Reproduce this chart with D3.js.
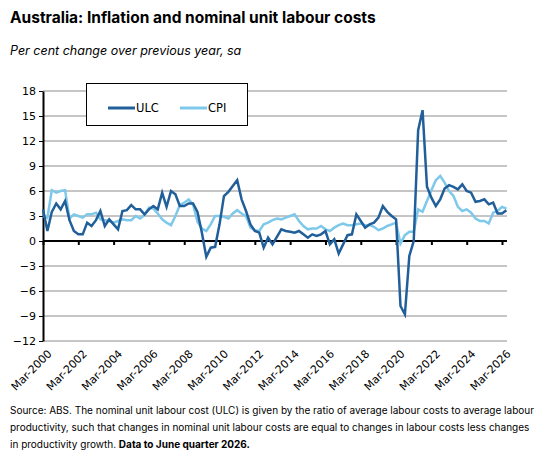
<!DOCTYPE html>
<html><head><meta charset="utf-8">
<script src="https://cdn.jsdelivr.net/npm/d3@7"></script>
<style>
body { margin: 0; background: #fff; }
.axis text { font-family: "DejaVu Sans", Verdana, sans-serif; font-size: 11px; fill: #000; }
</style></head>
<body><div id="chart"></div>
<script>
// Quarterly, Mar-2000 .. Jun-2026
var ulc = [3.8,1.2,3.5,4.5,3.8,4.8,2.5,1.2,0.8,0.8,2.2,1.8,2.5,3.6,1.8,2.6,2.0,1.4,3.6,3.7,
  4.3,3.8,3.8,3.2,3.8,4.2,3.8,5.8,4.1,6.0,5.6,4.2,4.2,4.5,4.5,3.5,1.0,-1.9,-0.8,-0.7,
  2.0,5.4,5.9,6.6,7.3,5.0,3.6,2.0,1.2,1.0,-0.8,0.4,-0.4,0.5,1.4,1.2,1.1,1.0,1.2,0.8,
  0.4,0.8,0.6,0.8,1.2,-0.4,0.2,-1.5,-0.4,0.7,0.8,3.2,2.4,1.6,2.0,2.2,2.8,4.2,3.5,3.0,
  2.6,-7.8,-8.8,-1.8,0,13.3,15.7,6.5,5.2,4.2,5.0,6.3,6.7,6.5,6.2,6.8,6.0,5.8,4.7,4.8,
  5.0,4.4,4.6,3.3,3.3,3.7];
var cpi = [3.0,2.8,6.1,5.8,6.0,6.1,2.7,3.2,3.0,2.8,3.2,3.2,3.4,2.6,2.5,2.4,2.2,2.4,2.6,2.5,
  2.5,3.0,2.7,3.1,4.0,3.9,3.3,2.6,2.2,1.9,3.0,4.3,4.6,5.0,4.4,2.3,1.5,1.2,2.0,3.0,
  3.0,2.9,2.7,3.3,3.7,3.3,3.0,1.6,1.3,1.2,2.0,2.2,2.5,2.7,2.6,2.8,3.0,3.2,2.4,1.8,
  1.4,1.5,1.5,1.8,1.4,1.2,1.6,1.9,2.1,1.9,1.9,2.0,2.1,1.9,1.9,1.7,1.3,1.5,1.8,2.0,
  2.2,-0.3,0.7,1.1,1.1,3.8,3.5,4.8,6.1,7.3,7.8,7.0,6.0,5.4,4.1,3.6,3.8,3.4,2.7,2.4,
  2.4,2.1,3.4,3.6,4.1,3.9];
var yTicks = [-12,-9,-6,-3,0,3,6,9,12,15,18];
var months = ['Mar','Jun','Sep','Dec'];
var quarters = ulc.map(function (d, i) { return months[i % 4] + '-' + (2000 + Math.floor(i / 4)); });

var W = 548, H = 454;
var margin = { left: 43, right: 41, top: 91, bottom: 113 };
var svg = d3.select('#chart').append('svg').attr('width', W).attr('height', H);

var x = d3.scaleLinear().domain([0, 104]).range([margin.left, 502]);
var y = d3.scaleLinear().domain([-12, 18]).range([H - margin.bottom, margin.top]);

svg.append('text').attr('x', 10).attr('y', 23).text('Australia: Inflation and nominal unit labour costs')
   .style('font-family', 'Inter, "Open Sans", sans-serif').style('font-weight', 'bold').style('font-size', '15.5px');
svg.append('text').attr('x', 10).attr('y', 55).text('Per cent change over previous year, sa')
   .style('font-family', 'Inter, "Open Sans", sans-serif').style('font-style', 'italic').style('font-size', '12.5px');

// Gridlines
svg.append('g').selectAll('line').data(yTicks).join('line')
   .attr('x1', margin.left).attr('x2', W - margin.right)
   .attr('y1', function (d) { return y(d); }).attr('y2', function (d) { return y(d); })
   .attr('stroke', '#8c8c8c').attr('stroke-width', 1);

// Y axis
var yAxis = svg.append('g').attr('class', 'axis').attr('transform', 'translate(' + margin.left + ',0)')
   .call(d3.axisLeft(y).tickValues(yTicks).tickSize(4).tickSizeOuter(0));
yAxis.select('.domain').attr('stroke', '#000').attr('stroke-width', 2);

// X axis on zero line
var xTickIdx = d3.range(0, ulc.length, 8);
var xAxis = svg.append('g').attr('class', 'axis').attr('transform', 'translate(0,' + y(0) + ')')
   .call(d3.axisBottom(x).tickValues(xTickIdx).tickSize(4).tickSizeOuter(0).tickFormat(''));
xAxis.select('.domain').attr('d', 'M' + margin.left + ',0H' + (W - margin.right)).attr('stroke', '#000').attr('stroke-width', 2);
xAxis.selectAll('.tick line').attr('stroke-width', 2);

svg.append('g').attr('class', 'axis').selectAll('text').data(xTickIdx).join('text')
   .attr('transform', function (d) { return 'translate(' + (x(d) + 4) + ',' + (y(-12) + 8) + ') rotate(-45)'; })
   .attr('text-anchor', 'end').attr('dy', '0.7em').text(function (d) { return quarters[d]; });

var line = d3.line().x(function (d, i) { return x(i); }).y(function (d) { return y(d); });
svg.append('path').datum(cpi).attr('d', line).attr('fill', 'none').attr('stroke', '#7ec8ea').attr('stroke-width', 2.5);
svg.append('path').datum(ulc).attr('d', line).attr('fill', 'none').attr('stroke', '#215f9a').attr('stroke-width', 2.5);

// Legend
var lg = svg.append('g');
lg.append('rect').attr('x', 86.5).attr('y', 83.5).attr('width', 161).attr('height', 42).attr('fill', '#fff').attr('stroke', '#000');
[['ULC', '#215f9a', 108], ['CPI', '#7ec8ea', 180]].forEach(function (s) {
  lg.append('line').attr('x1', s[2]).attr('x2', s[2] + 27).attr('y1', 108).attr('y2', 108).attr('stroke', s[1]).attr('stroke-width', 3);
  lg.append('text').attr('x', s[2] + 28).attr('y', 112).text(s[0]).attr('class', 'axis')
    .style('font-family', '"DejaVu Sans", sans-serif').style('font-size', '11.5px');
});

// Source
var src = svg.append('text').style('font-family', 'Inter, "Open Sans", sans-serif').style('font-size', '10px');
src.append('tspan').attr('x', 10).attr('y', 414).text('Source: ABS. The nominal unit labour cost (ULC) is given by the ratio of average labour costs to average labour');
src.append('tspan').attr('x', 10).attr('y', 431).text('productivity, such that changes in nominal unit labour costs are equal to changes in labour costs less changes');
src.append('tspan').attr('x', 10).attr('y', 448).text('in productivity growth. ');
src.append('tspan').style('font-weight', 'bold').text('Data to June quarter 2026.');
</script></body></html>
